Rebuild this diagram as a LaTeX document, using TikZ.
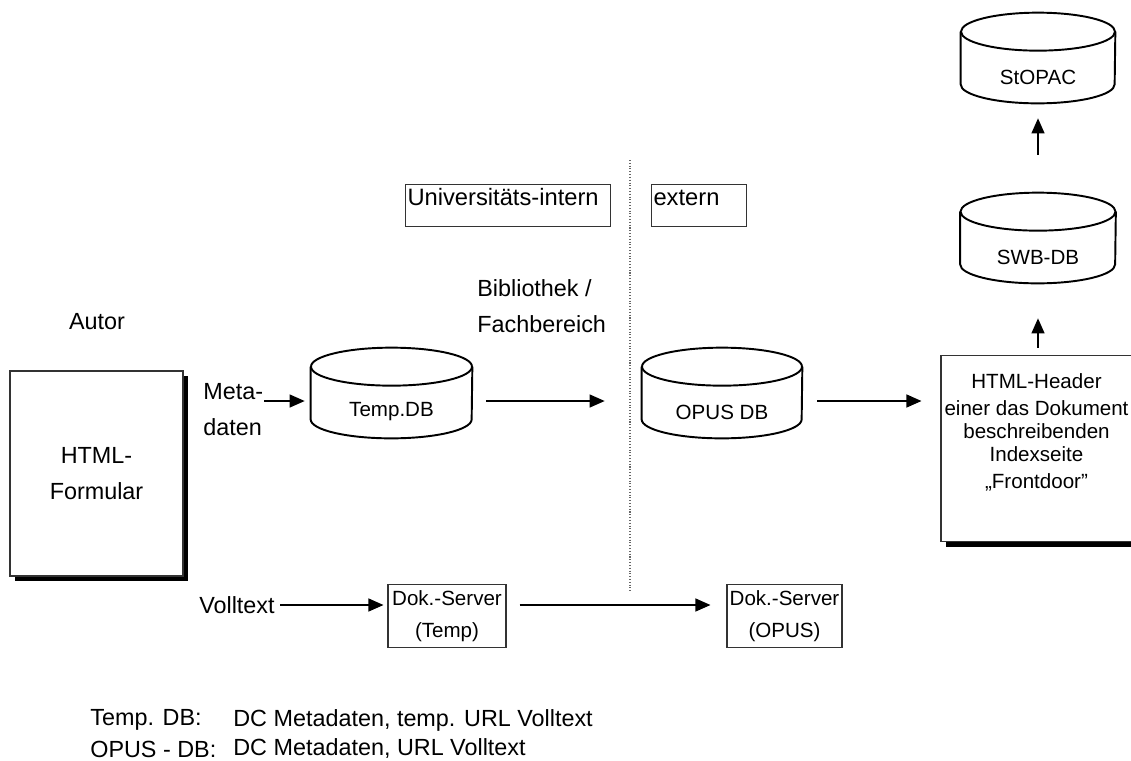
\documentclass[tikz,border=0pt]{standalone}
\usepackage{fontspec}
\setmainfont{Liberation Sans}
\usetikzlibrary{arrows.meta,shadows}

\tikzset{
  lbl/.style={inner sep=0pt, align=left, font=\fontsize{13.3}{20.5}\selectfont},
  small/.style={font=\fontsize{11.7}{13}\selectfont},
  dbface/.style={small, inner sep=0pt, minimum width=#1, minimum height=1.04cm},
  dbline/.style={line width=1.1pt},
  docbox/.style={draw=black!80, line width=0.6pt, fill=white, inner sep=0pt, align=center,
    drop shadow={shadow xshift=0.1cm, shadow yshift=-0.1cm, fill=black, opacity=1}},
  tagbox/.style={draw=black!80, line width=0.6pt, anchor=north west, align=left,
    inner xsep=0.04cm, inner ysep=0.02cm, text height=0.40cm, text depth=0.40cm,
    font=\fontsize{13.5}{16}\selectfont},
  srvbox/.style={draw=black!80, line width=0.6pt, align=center, inner sep=0.04cm,
    minimum height=1.26cm, font=\fontsize{11.7}{18.5}\selectfont},
  flow/.style={-{Triangle[length=0.3cm,width=0.26cm]}, line width=0.7pt},
  divider/.style={densely dotted, black!60, line width=0.6pt}
}

\begin{document}
\begin{tikzpicture}
					% Ablauf der Publikation
					\useasboundingbox (0,0) rectangle (22.62,-15.2);
					\node[lbl] (autor) at (1.94,-6.44) {Autor};
					\node[docbox, lbl, align=center, minimum width=3.46cm, minimum height=4.1cm] (form) at (1.93,-9.47) {HTML-\\Formular};
					\node[lbl, anchor=west] (meta) at (4.06,-8.19) {Meta-\\daten};
					\node[lbl, anchor=west] (bib) at (9.54,-6.13) {Bibliothek /\\Fachbereich};
					\node[tagbox, text width=4.02cm] (uni) at (8.1,-3.68) {Universitäts-intern};
					\node[tagbox, text width=1.82cm] (ext) at (13.02,-3.68) {extern};
					
					\node[dbface=3.22cm] (temp) at (7.83,-8.24) {Temp.DB};
					\node[dbface=3.2cm] (opus) at (14.44,-8.24) {OPUS DB};
					\node[dbface=3.1cm] (swb) at (20.76,-5.14) {SWB-DB};
					\node[dbface=3.08cm] (stopac) at (20.76,-1.54) {StOPAC};
					\foreach \n/\rx in {temp/1.61cm,opus/1.6cm,swb/1.55cm,stopac/1.54cm}{
						\draw[dbline] ([yshift=0.38cm]\n.north) ellipse[x radius=\rx, y radius=0.38cm];
						\draw[dbline] ([yshift=0.38cm]\n.north west) -- ([yshift=0.38cm]\n.south west)
							arc[start angle=180, end angle=360, x radius=\rx, y radius=0.38cm] -- ([yshift=0.38cm]\n.north east);
					}
					
					\node[docbox, minimum width=3.82cm, minimum height=3.72cm] (header) at (20.73,-8.97) {};
					\node[small, align=center] (headertxt) at (20.73,-8.65) {HTML-Header\\[2.5pt] einer das Dokument\\ beschreibenden\\ Indexseite\\[2.5pt] „Frontdoor"};
					
					\node[lbl] (volltext) at (4.74,-12.1) {Volltext};
					\node[srvbox, minimum width=2.36cm] (tsrv) at (8.94,-12.32) {Dok.-Server\\(Temp)};
					\node[srvbox, minimum width=2.3cm] (osrv) at (15.69,-12.32) {Dok.-Server\\(OPUS)};
					
					\coordinate (divtop) at (12.6,-3.2);
					\coordinate (divbot) at (12.6,-11.85);
					\coordinate (mrow) at (0,-8.02);
					\draw[divider] (divtop) -- (divbot);
					
					\draw[flow, shorten <=0.02cm, shorten >=0.12cm] (meta.east |- mrow) -- (temp.west |- mrow);
					\draw[flow, shorten <=0.28cm, shorten >=0.74cm] (temp.east |- mrow) -- (opus.west |- mrow);
					\draw[flow, shorten <=0.3cm, shorten >=0.38cm] (opus.east |- mrow) -- (header.west |- mrow);
					\draw[flow, shorten <=0.14cm, shorten >=0.7cm] (swb.south |- header.north) -- (swb.south);
					\draw[flow, shorten <=1.52cm, shorten >=0.3cm] (swb.north) -- (stopac.south);
					\draw[flow, shorten <=0.1cm, shorten >=0.08cm] (volltext.east) -- (tsrv.west |- volltext);
					\draw[flow, shorten <=0.26cm, shorten >=0.32cm] (tsrv.east |- volltext) -- (osrv.west |- volltext);
					
					\node[lbl, anchor=west] (leg1) at (1.8,-14.4) {Temp. DB:};
					\node[lbl, anchor=west] (leg1txt) at (4.66,-14.4) {DC Metadaten, temp. URL Volltext};
					\node[lbl, anchor=west] (leg2) at (1.8,-14.98) {OPUS - DB:};
					\node[lbl, anchor=west] (leg2txt) at (4.66,-14.98) {DC Metadaten, URL Volltext};
			\end{tikzpicture}
\end{document}
